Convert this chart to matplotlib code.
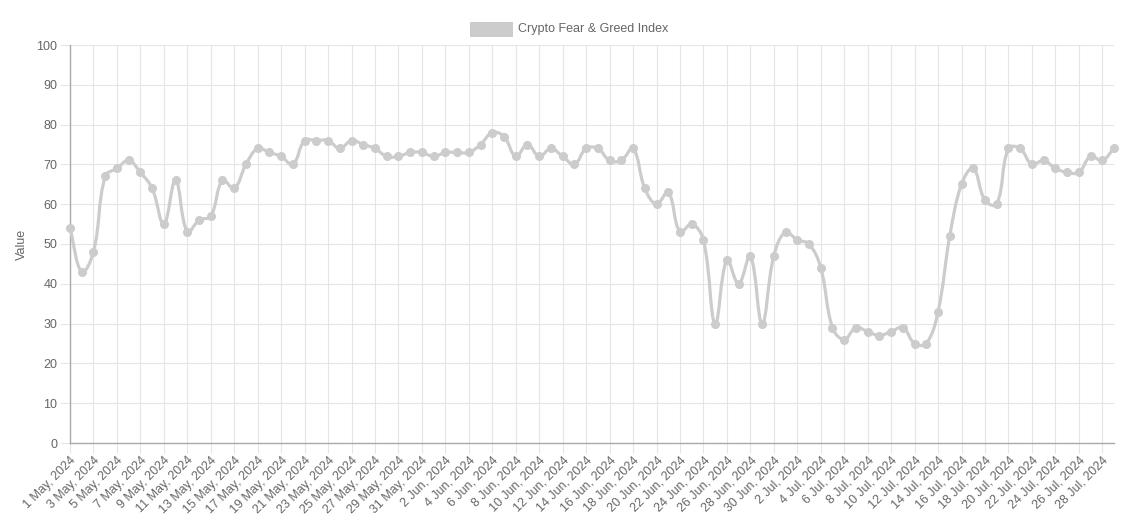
import datetime as dt
import numpy as np
import matplotlib
matplotlib.use("Agg")
import matplotlib.pyplot as plt
from matplotlib.path import Path
from matplotlib.patches import PathPatch, Rectangle

# ----------------------------------------------------------------
# Data
# ----------------------------------------------------------------
start_date = dt.date(2024, 5, 1)
values = [
    54, 43, 48, 67, 69, 71, 68, 64, 55, 66,
    53, 56, 57, 66, 64, 70, 74, 73, 72, 70,
    76, 76, 76, 74, 76, 75, 74, 72, 72, 73,
    73, 72, 73, 73, 73, 75, 78, 77, 72, 75,
    72, 74, 72, 70, 74, 74, 71, 71, 74, 64,
    60, 63, 53, 55, 51, 30, 46, 40, 47, 30,
    47, 53, 51, 50, 44, 29, 26, 29, 28, 27,
    28, 29, 25, 25, 33, 52, 65, 69, 61, 60,
    74, 74, 70, 71, 69, 68, 68, 72, 71, 74,
]
dates = [start_date + dt.timedelta(days=i) for i in range(len(values))]
labels = [f"{d.day} {d.strftime('%b')}, {d.year}" for d in dates]
y_ticks = list(range(0, 101, 10))
series_name = "Crypto Fear & Greed Index"

LINE_COLOR = "#cccccc"
GRID_COLOR = "#e5e5e5"
TEXT_COLOR = "#666666"
TENSION = 0.4

plt.rcParams["font.family"] = ["Liberation Sans", "DejaVu Sans"]

# ----------------------------------------------------------------
# Figure / axes
# ----------------------------------------------------------------
W, H = 1131, 523
fig = plt.figure(figsize=(W / 100, H / 100), dpi=100)
ax = fig.add_axes([70 / W, (H - 443) / H, 1044 / W, 398 / H])

x = np.arange(len(values))
ax.set_xlim(0, len(values) - 1)
ax.set_ylim(0, 100)

# --- smooth curve like chart.js (tension bezier in pixel space) ---
pts = ax.transData.transform(np.column_stack([x, values]))
n = len(pts)
cp_prev = pts.copy()
cp_next = pts.copy()
for i in range(n):
    prev = pts[i - 1] if i > 0 else pts[i]
    nxt = pts[i + 1] if i < n - 1 else pts[i]
    d01 = np.hypot(*(pts[i] - prev))
    d12 = np.hypot(*(nxt - pts[i]))
    tot = d01 + d12
    s01 = d01 / tot if tot else 0
    s12 = d12 / tot if tot else 0
    cp_prev[i] = pts[i] - TENSION * s01 * (nxt - prev)
    cp_next[i] = pts[i] + TENSION * s12 * (nxt - prev)

verts = [pts[0]]
codes = [Path.MOVETO]
for i in range(n - 1):
    verts += [cp_next[i], cp_prev[i + 1], pts[i + 1]]
    codes += [Path.CURVE4] * 3
verts = ax.transData.inverted().transform(np.array(verts))
ax.add_patch(PathPatch(Path(verts, codes), facecolor="none",
                       edgecolor=LINE_COLOR, lw=2.3, zorder=3,
                       capstyle="round", joinstyle="round"))
ax.plot(x, values, "o", color=LINE_COLOR, markersize=5.5, zorder=4,
        clip_on=False)

# --- grid & axes ---
tick_idx = list(range(0, len(values), 2))
ax.set_xticks(tick_idx)
ax.set_xticklabels([labels[i] for i in tick_idx], rotation=45, ha="right",
                   rotation_mode="anchor", fontsize=9, color=TEXT_COLOR)
ax.set_yticks(y_ticks)
ax.set_yticklabels([str(v) for v in y_ticks], fontsize=9, color=TEXT_COLOR)
ax.grid(True, color=GRID_COLOR, lw=0.8, zorder=0)
ax.set_axisbelow(True)
ax.tick_params(axis="both", length=7, color=GRID_COLOR, width=0.8, pad=2)
ax.tick_params(axis="x", pad=1)

for side in ("top", "right"):
    ax.spines[side].set_visible(False)
for side in ("left", "bottom"):
    ax.spines[side].set_color("#aaaaaa")
    ax.spines[side].set_linewidth(1)

ax.set_ylabel("Value", fontsize=9, color=TEXT_COLOR, labelpad=6)

# --- legend (box + text, chart.js style) ---
fig.patches.append(Rectangle((470 / W, (H - 36.7) / H), 43 / W, 15 / H,
                             transform=fig.transFigure, facecolor=LINE_COLOR,
                             edgecolor="none"))
fig.text(518 / W, (H - 29) / H, series_name, fontsize=9, color=TEXT_COLOR,
         va="center", ha="left")

fig.savefig("out.png", dpi=100)
plt.close(fig)
